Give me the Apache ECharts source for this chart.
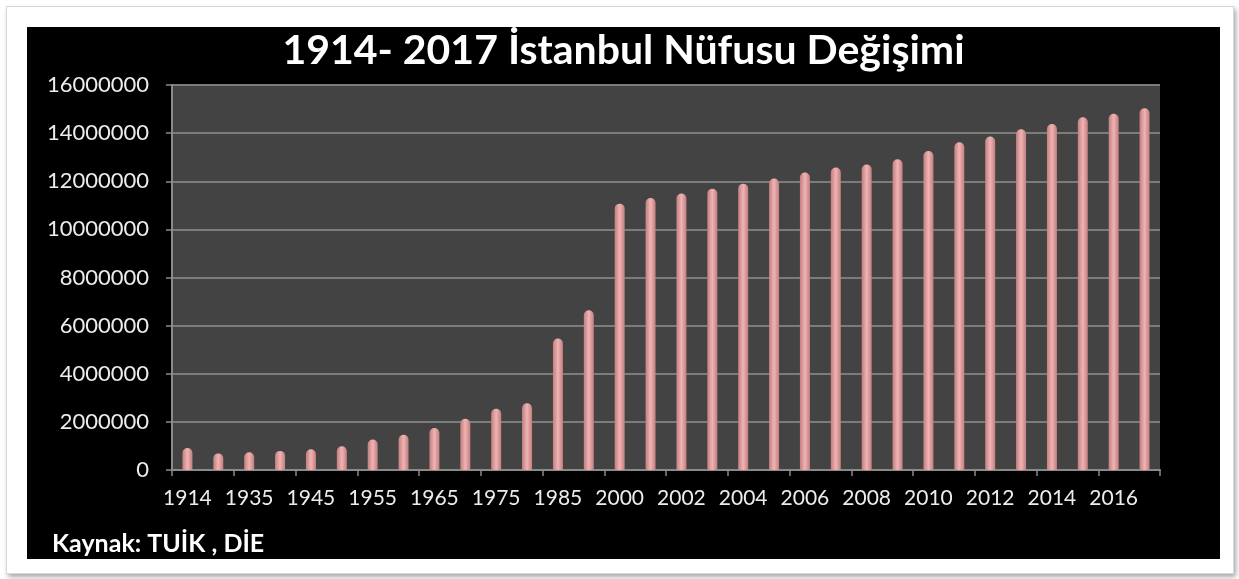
<!DOCTYPE html>
<html>
<head>
<meta charset="utf-8">
<script src="https://cdn.jsdelivr.net/npm/echarts@6/dist/echarts.min.js"></script>
<style>
	html, body { margin: 0; padding: 0; background: #fff; }
	#frame {
		position: absolute; left: 6px; top: 6px; width: 1226px; height: 566px;
		background: #fff; border: 1px solid #d8d8d8;
		box-shadow: 2px 3px 5px rgba(0,0,0,0.35);
	}
	#chart {
		position: absolute; left: 27px; top: 27px; width: 1193px; height: 532px;
		background: #000;
	}
</style>
</head>
<body>
<div id="frame"></div>
<div id="chart"></div>
<script>
/*Istanbul population*/

var years = ['1914', '1927', '1935', '1940', '1945', '1950', '1955', '1960', '1965', '1970',
	'1975', '1980', '1985', '1990', '2000', '2001', '2002', '2003', '2004', '2005',
	'2006', '2007', '2008', '2009', '2010', '2011', '2012', '2013', '2014', '2015',
	'2016', '2017'];

var population = [910000, 690000, 741000, 794000, 860000, 983000, 1269000, 1467000, 1743000, 2132000,
	2547000, 2773000, 5460000, 6640000, 11070000, 11300000, 11490000, 11690000, 11900000, 12110000,
	12360000, 12574000, 12697000, 12915000, 13256000, 13624000, 13855000, 14160000, 14377000, 14657000,
	14804000, 15029000];

var yTicks = [0, 2000000, 4000000, 6000000, 8000000, 10000000, 12000000, 14000000, 16000000];

var chart = document.getElementById('chart');
var barChart = echarts.init(chart);

var option = {
	backgroundColor: '#000',
	animation: false,
	title: {
		text: '1914- 2017 İstanbul Nüfusu Değişimi',
		left: 'center',
		top: -2,
		textStyle: {
			color: '#fff',
			fontSize: 41,
			fontWeight: 'bold',
			fontFamily: 'Lato'
		}
	},
	graphic: [
		{
			type: 'text',
			left: 25,
			top: 504,
			style: {
				text: 'Kaynak: TUİK , DİE',
				fill: '#fff',
				font: 'bold 25px Lato'
			}
		}
	],
	grid: {
		left: 145,
		right: 60,
		top: 58,
		bottom: 89,
		show: true,
		backgroundColor: '#434343',
		borderWidth: 0
	},
	xAxis: {
		type: 'category',
		data: years,
		axisLine: {
			lineStyle: { color: '#8a8a8a', width: 2 }
		},
		axisTick: {
			show: true,
			length: 6,
			lineStyle: { color: '#8a8a8a', width: 1.5 }
		},
		axisLabel: {
			interval: 1,
			margin: 18,
			fontSize: 21,
			fontFamily: 'Lato',
			color: '#ececec'
		}
	},
	yAxis: {
		type: 'value',
		min: 0,
		max: yTicks[yTicks.length - 1],
		interval: yTicks[1] - yTicks[0],
		axisLine: {
			show: true,
			lineStyle: { color: '#8a8a8a', width: 2 }
		},
		axisTick: {
			show: true,
			length: 6,
			lineStyle: { color: '#8a8a8a', width: 1.5 }
		},
		splitLine: {
			lineStyle: { color: '#7c7c7c', width: 2 }
		},
		axisLabel: {
			margin: 23,
			fontSize: 22,
			fontFamily: 'Lato',
			color: '#ececec',
			formatter: function (v) { return String(v); }
		}
	},
	series: [
		{
			name: 'Nüfus',
			type: 'bar',
			data: population,
			barWidth: 10,
			itemStyle: {
				borderRadius: [5, 5, 0, 0],
				color: new echarts.graphic.LinearGradient(0, 0, 1, 0, [
					{ offset: 0, color: '#c27f7f' },
					{ offset: 0.5, color: '#f0b3b3' },
					{ offset: 1, color: '#c27f7f' }
				])
			}
		}
	]
};

barChart.setOption(option);
</script>
</body>
</html>
